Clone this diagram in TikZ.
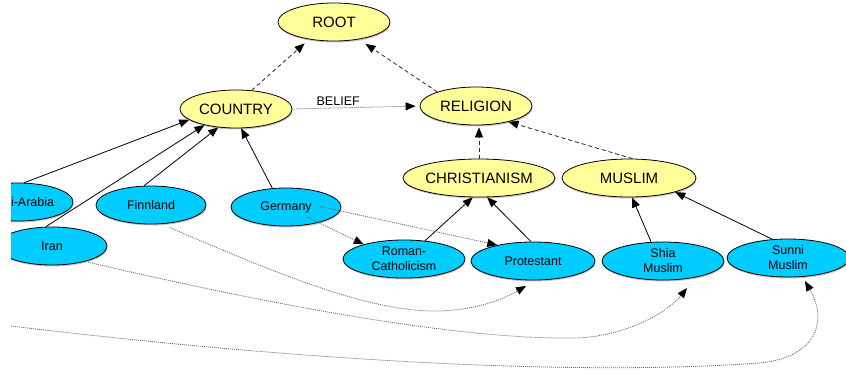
\documentclass[tikz,border=0pt]{standalone}
\usepackage{fontspec}
\setmainfont{Liberation Sans}
\usetikzlibrary{shapes.geometric,arrows.meta,shadows}
\definecolor{yfill}{HTML}{FFFF99}
\definecolor{bfill}{HTML}{00CCFF}
\begin{document}
\begin{tikzpicture}[x=1pt,y=-1pt,
  shad/.style={drop shadow={shadow xshift=0.5pt,shadow yshift=-1.5pt,fill=black!22,opacity=1}},
  yel/.style={ellipse,draw=black,line width=0.8pt,fill=yfill,inner sep=0pt,shad,
    font=\fontsize{15}{18}\selectfont,minimum height=38pt},
  blu/.style={ellipse,draw=black,line width=0.8pt,fill=bfill,inner sep=0pt,shad,
    font=\fontsize{12.5}{15}\selectfont,align=center,minimum height=38pt},
  solidarr/.style={draw=black,line width=0.8pt,-{Triangle[length=10pt,width=8pt]}},
  dasharr/.style={draw=black!85,line width=0.8pt,dash pattern=on 4pt off 3pt,-{Triangle[length=10pt,width=8pt,color=black]}},
  dotarr/.style={draw=black!60,line width=0.8pt,dash pattern=on 1pt off 1pt,-{Triangle[length=10pt,width=8pt,color=black]}}
]
\useasboundingbox (0,0) rectangle (846,375);
\clip (11,0) rectangle (846,375);

% yellow nodes
\node[yel,minimum width=112pt] (root) at (334,22) {ROOT};
\node[yel,minimum width=112pt] (country) at (236,109) {COUNTRY};
\node[yel,minimum width=112pt] (religion) at (476,106) {RELIGION};
\node[yel,minimum width=134pt] (christ) at (479,178) {CHRISTIANISM};
\node[yel,minimum width=134pt] (muslim) at (629,178) {MUSLIM};

% blue nodes
\node[blu,minimum width=110pt] (saudi) at (18,202) {Saudi-Arabia};
\node[blu,minimum width=110pt] (iran) at (52,246) {Iran};
\node[blu,minimum width=110pt] (finn) at (151,205) {Finnland};
\node[blu,minimum width=110pt] (germany) at (286,207) {Germany};
\node[blu,minimum width=122pt] (roman) at (404,259) {Roman-\\Catholicism};
\node[blu,minimum width=124pt] (prot) at (533,261) {Protestant};
\node[blu,minimum width=122pt] (shia) at (663,261) {Shia\\Muslim};
\node[blu,minimum width=122pt] (sunni) at (788,258) {Sunni\\Muslim};

\coordinate (leftend) at (11,326);

% solid edges
\draw[solidarr] (saudi.72) -- (country.193);
\draw[solidarr] (iran.108) -- (country.207);
\draw[solidarr] (finn.110) -- (country.226);
\draw[solidarr] (germany.126) -- (country.285);
\draw[solidarr] (roman.41) -- (christ.252);
\draw[solidarr] (prot.96) -- (christ.293);
\draw[solidarr] (shia.122) -- (muslim.279);
\draw[solidarr] (sunni.130) -- (muslim.343);

% dashed edges
\draw[dasharr,shorten >=6pt] (country.50) -- (root.215);
\draw[dasharr,shorten >=8pt] (religion.160) -- (root.325);
\draw[dasharr,shorten >=2pt] (christ.north) -- (religion.south -| christ.north);
\draw[dasharr] (muslim.80) -- (religion.334);

% dotted edges
\draw[dotarr,shorten >=4pt] (country.east) -- node[pos=0.36,above=2pt,inner sep=0pt,font=\fontsize{12.5}{15}\selectfont] (belief) {BELIEF} (religion.west);
\draw[dotarr] ([shift={(21,10)}]germany.center) -- (roman.160);
\draw[dotarr] ([shift={(32,-1)}]germany.center) -- (prot.156);
\draw[dotarr,shorten <=9pt] (finn.299) .. controls (280,275) and (370,312) .. (437,311)
   .. controls (480,310) and (505,298) .. ([shift={(-7,25)}]prot.center);
\draw[dotarr,shorten <=3pt] (iran.335) .. controls (250,300) and (450,340) .. (575,338)
   .. controls (625,337) and (668,312) .. ([shift={(24,27)}]shia.center);
\draw[dotarr] (leftend) .. controls (250,355) and (550,378) .. (760,363)
   .. controls (812,358) and (830,325) .. ([shift={(17,23)}]sunni.center);
\end{tikzpicture}
\end{document}
